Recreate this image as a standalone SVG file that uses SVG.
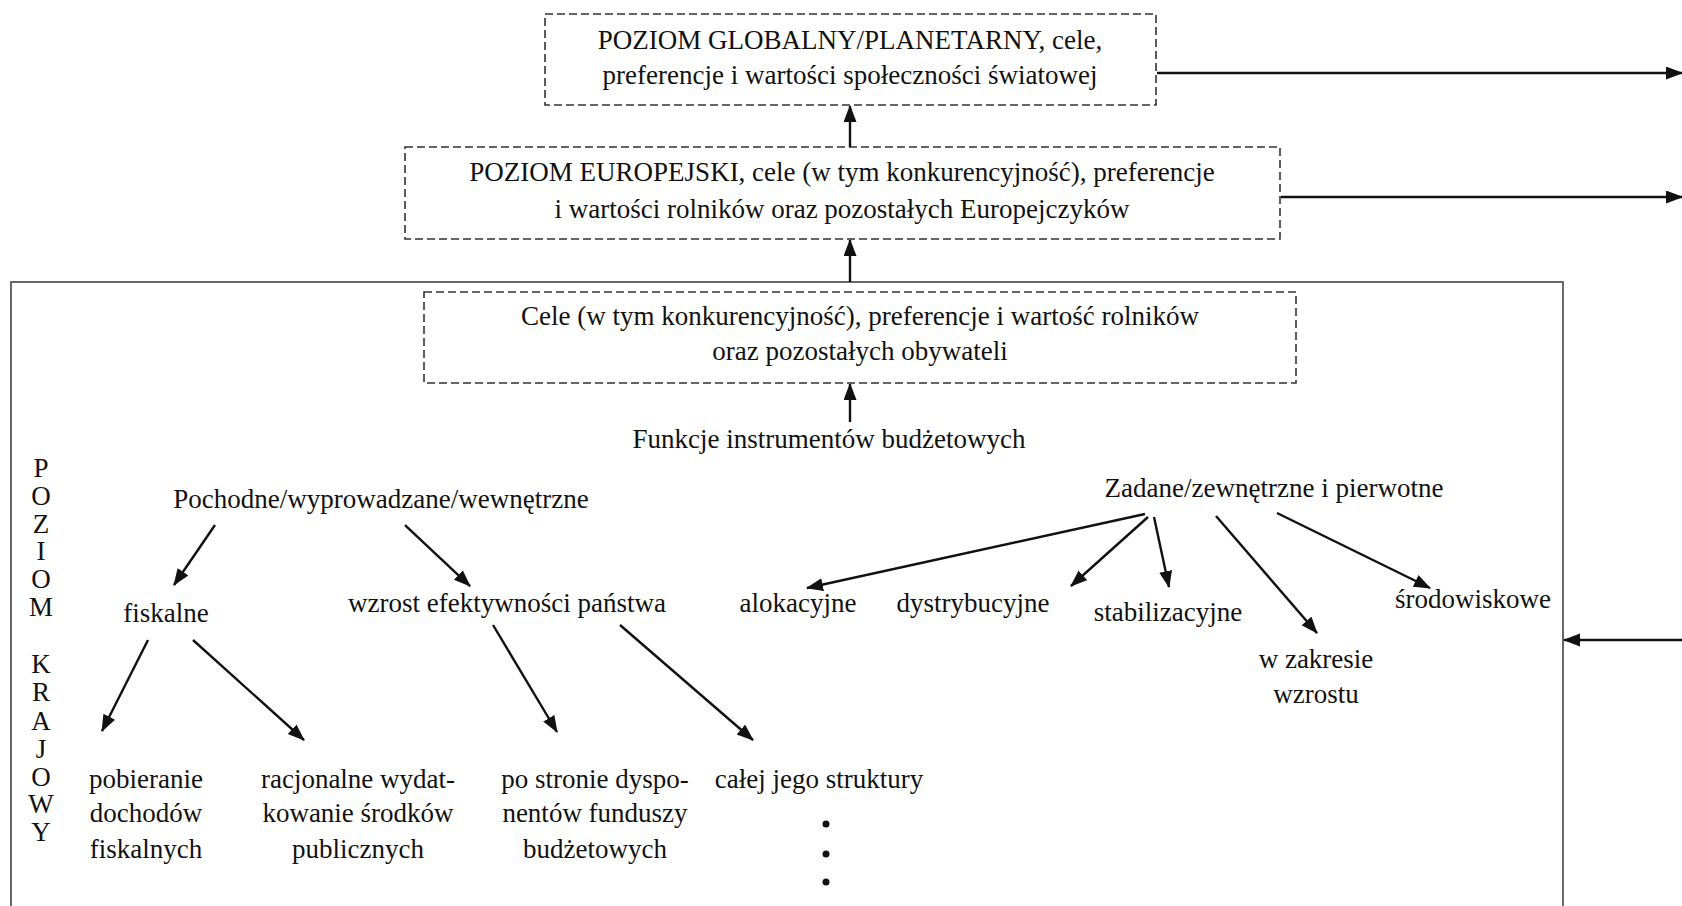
<svg xmlns="http://www.w3.org/2000/svg" width="1682" height="906" viewBox="0 0 1682 906">
<style>
text{font-family:"Liberation Serif","Times New Roman",serif;font-size:27px;fill:#111;text-anchor:middle}
.dash{fill:none;stroke:#333;stroke-width:1.6;stroke-dasharray:8 4}
.frame{fill:none;stroke:#444;stroke-width:1.6}
.c line{stroke:#111;stroke-width:2.4;marker-end:url(#ah)}
</style>
<defs>
<marker id="ah" markerUnits="userSpaceOnUse" markerWidth="18" markerHeight="14" refX="16" refY="6.5" orient="auto">
<path d="M0,0 L17,6.5 L0,13 Z" fill="#111"/>
</marker>
</defs>
<rect width="1682" height="906" fill="#fff"/>

<g id="kraj-frame"><rect class="frame" x="11" y="282" width="1552" height="640"/></g>

<g id="n-global">
<rect class="dash" x="545" y="14" width="611" height="91"/>
<text x="850" y="49">POZIOM GLOBALNY/PLANETARNY, cele,</text>
<text x="850" y="84">preferencje i wartości społeczności światowej</text>
</g>
<g id="n-europe">
<rect class="dash" x="405" y="147" width="875" height="92"/>
<text x="842" y="181">POZIOM EUROPEJSKI, cele (w tym konkurencyjność), preferencje</text>
<text x="842" y="218">i wartości rolników oraz pozostałych Europejczyków</text>
</g>
<g id="n-cele">
<rect class="dash" x="424" y="292" width="872" height="91"/>
<text x="860" y="325">Cele (w tym konkurencyjność), preferencje i wartość rolników</text>
<text x="860" y="360">oraz pozostałych obywateli</text>
</g>
<g id="n-funkcje"><text x="829" y="448">Funkcje instrumentów budżetowych</text></g>
<g id="n-poziom-krajowy">
<text x="41" y="477">P</text><text x="41" y="505">O</text><text x="41" y="533">Z</text><text x="41" y="560">I</text><text x="41" y="588">O</text><text x="41" y="616">M</text>
<text x="41" y="673">K</text><text x="41" y="701">R</text><text x="41" y="730">A</text><text x="41" y="758">J</text><text x="41" y="786">O</text><text x="41" y="813">W</text><text x="41" y="841">Y</text>
</g>
<g id="n-pochodne"><text x="381" y="508">Pochodne/wyprowadzane/wewnętrzne</text></g>
<g id="n-fiskalne"><text x="166" y="622">fiskalne</text></g>
<g id="n-wzrost-ef"><text x="507" y="612">wzrost efektywności państwa</text></g>
<g id="n-pobieranie"><text x="146" y="788">pobieranie</text><text x="146" y="822">dochodów</text><text x="146" y="858">fiskalnych</text></g>
<g id="n-racjonalne"><text x="358" y="788">racjonalne wydat-</text><text x="358" y="822">kowanie środków</text><text x="358" y="858">publicznych</text></g>
<g id="n-postronie"><text x="595" y="788">po stronie dyspo-</text><text x="595" y="822">nentów funduszy</text><text x="595" y="858">budżetowych</text></g>
<g id="n-calej"><text x="819" y="788">całej jego struktury</text>
<circle cx="826" cy="824" r="3.5" fill="#111"/><circle cx="826" cy="854" r="3.5" fill="#111"/><circle cx="826" cy="882" r="3.5" fill="#111"/></g>
<g id="n-zadane"><text x="1274" y="497">Zadane/zewnętrzne i pierwotne</text></g>
<g id="n-alokacyjne"><text x="798" y="612">alokacyjne</text></g>
<g id="n-dystrybucyjne"><text x="973" y="612">dystrybucyjne</text></g>
<g id="n-stabilizacyjne"><text x="1168" y="621">stabilizacyjne</text></g>
<g id="n-wzakresie"><text x="1316" y="668">w zakresie</text><text x="1316" y="703">wzrostu</text></g>
<g id="n-srodowiskowe"><text x="1473" y="608">środowiskowe</text></g>

<g id="connectors" class="c">
<line x1="850" y1="147" x2="850" y2="106"/>
<line x1="850" y1="282" x2="850" y2="240"/>
<line x1="850" y1="422" x2="850" y2="384"/>
<line x1="1157" y1="73" x2="1682" y2="73"/>
<line x1="1281" y1="197" x2="1682" y2="197"/>
<line x1="1682" y1="640" x2="1564" y2="640"/>
<line x1="215" y1="525" x2="174" y2="585"/>
<line x1="405" y1="525" x2="470" y2="586"/>
<line x1="148" y1="640" x2="102" y2="731"/>
<line x1="193" y1="640" x2="304" y2="740"/>
<line x1="493" y1="625" x2="557" y2="732"/>
<line x1="620" y1="625" x2="753" y2="740"/>
<line x1="1145" y1="514" x2="807" y2="588"/>
<line x1="1148" y1="517" x2="1071" y2="586"/>
<line x1="1154" y1="517" x2="1169" y2="587"/>
<line x1="1216" y1="516" x2="1317" y2="633"/>
<line x1="1277" y1="513" x2="1430" y2="588"/>
</g>
</svg>
